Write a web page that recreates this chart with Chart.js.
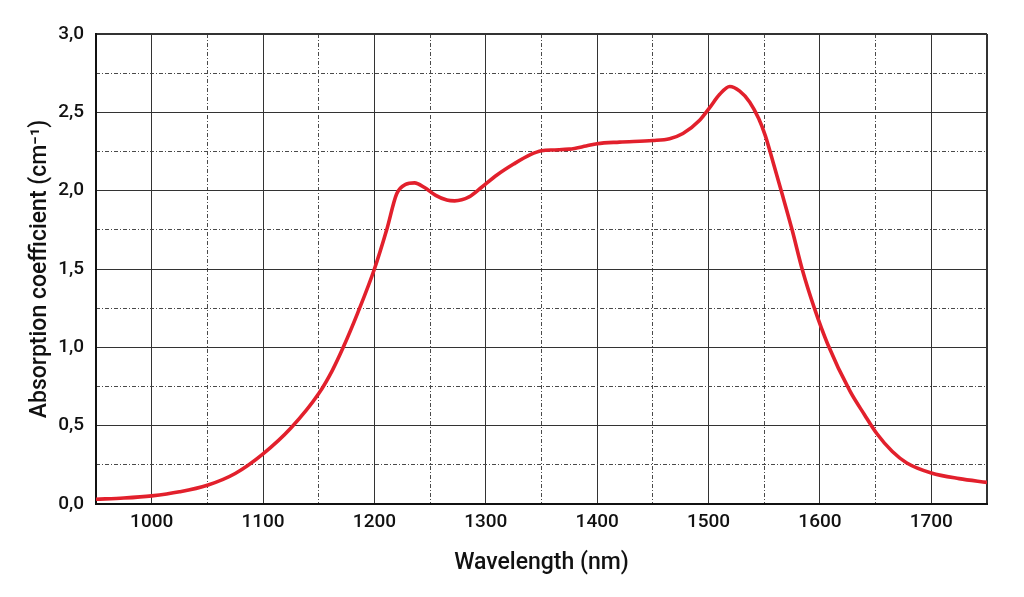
<!DOCTYPE html>
<html>
<head>
<meta charset="utf-8">
<script src="https://cdn.jsdelivr.net/npm/chart.js@4/dist/chart.umd.min.js"></script>
<style>
html,body{margin:0;padding:0;background:#fff;}
#c{display:block;}
</style>
</head>
<body>
<canvas id="c" width="1024" height="597"></canvas>
<script>
// Data
const wavelengths = [950,975,1000,1025,1050,1075,1100,1125,1150,1162,1172,1185,1200,1211,1220,1228,1236,1245,1255,1265,1272,1285,1296,1310,1325,1340,1350,1362,1375,1390,1400,1420,1450,1465,1477,1492,1501,1510,1519,1528,1537,1545,1551,1558,1566,1575,1584,1595,1607,1627,1640,1651,1665,1678,1700,1725,1750];
const absorption = [0.03,0.038,0.052,0.078,0.12,0.195,0.32,0.485,0.705,0.85,1.0,1.22,1.5,1.75,1.98,2.04,2.05,2.02,1.97,1.94,1.935,1.96,2.02,2.1,2.17,2.23,2.255,2.26,2.265,2.285,2.30,2.31,2.32,2.332,2.365,2.45,2.53,2.615,2.665,2.635,2.565,2.46,2.35,2.18,1.98,1.75,1.5,1.25,1.02,0.72,0.57,0.45,0.335,0.262,0.198,0.162,0.138];

const xMajorTicks = [950,1000,1100,1200,1300,1400,1500,1600,1700,1750];
const xMinorTicks = [1050,1150,1250,1350,1450,1550,1650];
const yMajorTicks = [0,0.5,1.0,1.5,2.0,2.5,3.0];
const yMinorTicks = [0.25,0.75,1.25,1.75,2.25,2.75];

const xTitle = 'Wavelength (nm)';
const yTitle = 'Absorption coefficient (cm\u207B\u00B9)';

const FONT = 'Roboto, "Noto Sans", sans-serif';
const tickFont = {family: FONT, size: 19, weight: '500'};
const titleFont = {family: FONT, size: 23, weight: '500'};
const majorColor = '#333333';
const minorColor = '#4a4a4a';
const dashPattern = [4,2,1,2];

const points = wavelengths.map((w,i)=>({x:w, y:absorption[i]}));

new Chart(document.getElementById('c'), {
  type: 'line',
  data: {
    datasets: [{
      data: points,
      borderColor: '#e2202c',
      borderWidth: 3.6,
      pointRadius: 0,
      fill: false,
      cubicInterpolationMode: 'monotone'
    }]
  },
  options: {
    responsive: false,
    animation: false,
    layout: {padding: {top: 34, right: 37, bottom: 0, left: 0}},
    plugins: {legend: {display: false}, tooltip: {enabled: false}},
    scales: {
      x: {
        type: 'linear', position: 'bottom', min: 950, max: 1750,
        afterBuildTicks: s => { s.ticks = xMajorTicks.map(v=>({value:v})); },
        afterFit: s => { s.height = 93; },
        ticks: {
          font: tickFont, color: '#111', padding: 7, maxRotation: 0, autoSkip: false,
          callback: v => (v===950 || v===1750) ? '' : String(v)
        },
        grid: {
          drawTicks: false, color: majorColor,
          lineWidth: ctx => (ctx.tick && ctx.tick.value===1750) ? 2 : 1
        },
        border: {display: true, color: '#111', width: 2},
        title: {display: true, text: xTitle, color: '#111',
          font: titleFont, padding: {top: 0, bottom: 20}}
      },
      xm: {
        type: 'linear', position: 'top', min: 950, max: 1750,
        afterBuildTicks: s => { s.ticks = xMinorTicks.map(v=>({value:v})); },
        afterFit: s => { s.height = 0; },
        ticks: {display: false},
        grid: {drawTicks: false, color: minorColor, lineWidth: 1},
        border: {display: false, dash: dashPattern}
      },
      y: {
        type: 'linear', position: 'left', min: 0, max: 3,
        afterBuildTicks: s => { s.ticks = yMajorTicks.map(v=>({value:v})); },
        afterFit: s => { s.width = 96; },
        ticks: {
          font: tickFont, color: '#111', padding: 12,
          callback: v => v.toFixed(1).replace('.', ',')
        },
        grid: {
          drawTicks: false, color: majorColor,
          lineWidth: ctx => (ctx.tick && ctx.tick.value===3) ? 2 : 1
        },
        border: {display: true, color: '#111', width: 2},
        title: {display: true, text: yTitle, color: '#111',
          font: titleFont, padding: {top: 26, bottom: 0}}
      },
      ym: {
        type: 'linear', position: 'right', min: 0, max: 3,
        afterBuildTicks: s => { s.ticks = yMinorTicks.map(v=>({value:v})); },
        afterFit: s => { s.width = 0; },
        ticks: {display: false},
        grid: {drawTicks: false, color: minorColor, lineWidth: 1},
        border: {display: false, dash: dashPattern}
      }
    }
  }
});
</script>
</body>
</html>
